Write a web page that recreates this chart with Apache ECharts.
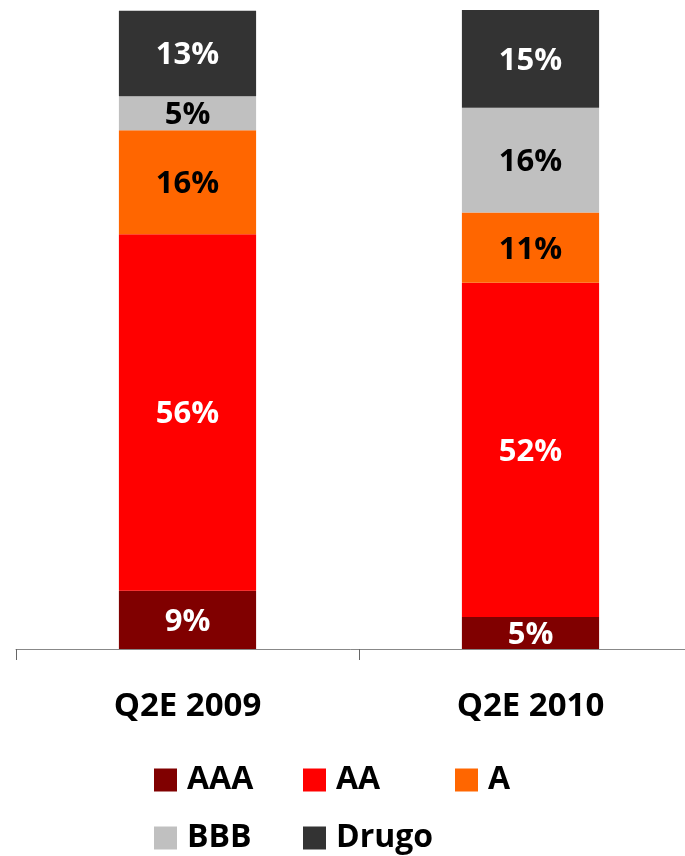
<!DOCTYPE html>
<html>
<head>
<meta charset="utf-8">
<script src="https://cdn.jsdelivr.net/npm/echarts@6/dist/echarts.min.js"></script>
<style>
  html, body { margin: 0; padding: 0; background: #fff; }
  #chart { width: 685px; height: 856px; }
</style>
</head>
<body>
<div id="chart"></div>
<script>
  // kategorije i udjeli (%) po rejtingu
  var categories = ['Q2E 2009', 'Q2E 2010'];
  var aaa   = [9.1, 5.0];
  var aa    = [55.8, 52.3];
  var a     = [16.3, 11.0];
  var bbb   = [5.3, 16.4];
  var drugo = [13.4, 15.3];

  var font = '"Open Sans", "Noto Sans", sans-serif';

  function mkSeries(name, data, color, labelColor) {
    return {
      name: name,
      type: 'bar',
      stack: 'total',
      barWidth: '40%',
      data: data,
      itemStyle: { color: color },
      label: {
        show: true,
        position: 'inside',
        color: labelColor,
        fontFamily: font,
        fontWeight: 'bold',
        fontSize: 31,
        offset: [0, 2],
        formatter: function (p) { return Math.round(p.value) + '%'; }
      }
    };
  }

  // raspored legende (2 reda)
  var legendPos = [
    { name: 'AAA', left: 154, top: 764 },
    { name: 'AA', left: 303, top: 764 },
    { name: 'A', left: 455, top: 764 },
    { name: 'BBB', left: 154, top: 822 },
    { name: 'Drugo', left: 303, top: 822 }
  ];
  var legends = legendPos.map(function (l) {
    return {
      data: [l.name],
      left: l.left, top: l.top,
      padding: 0,
      itemWidth: 23, itemHeight: 23,
      icon: 'rect',
      textStyle: { fontFamily: font, fontWeight: 'bold', fontSize: 32, color: '#000', padding: [0, 0, 0, 5] }
    };
  });

  var myChart = echarts.init(document.getElementById('chart'));
  var option = {
    animation: false,
    grid: { left: 16, width: 686, top: 10, bottom: 207, outerBoundsMode: 'none', containLabel: false },
    legend: legends,
    xAxis: {
      type: 'category',
      data: categories,
      axisLine: { lineStyle: { color: '#888', width: 1 } },
      axisTick: { show: true, length: 11, lineStyle: { color: '#666' } },
      axisLabel: {
        margin: 41,
        color: '#000',
        fontFamily: font,
        fontWeight: 'bold',
        fontSize: 33
      }
    },
    yAxis: {
      type: 'value',
      min: 0,
      max: 100,
      show: false,
      splitLine: { show: false }
    },
    series: [
      mkSeries('AAA', aaa, '#800000', '#fff'),
      mkSeries('AA', aa, '#ff0000', '#fff'),
      mkSeries('A', a, '#ff6600', '#000'),
      mkSeries('BBB', bbb, '#c0c0c0', '#000'),
      mkSeries('Drugo', drugo, '#333333', '#fff')
    ]
  };
  myChart.setOption(option);
</script>
</body>
</html>
